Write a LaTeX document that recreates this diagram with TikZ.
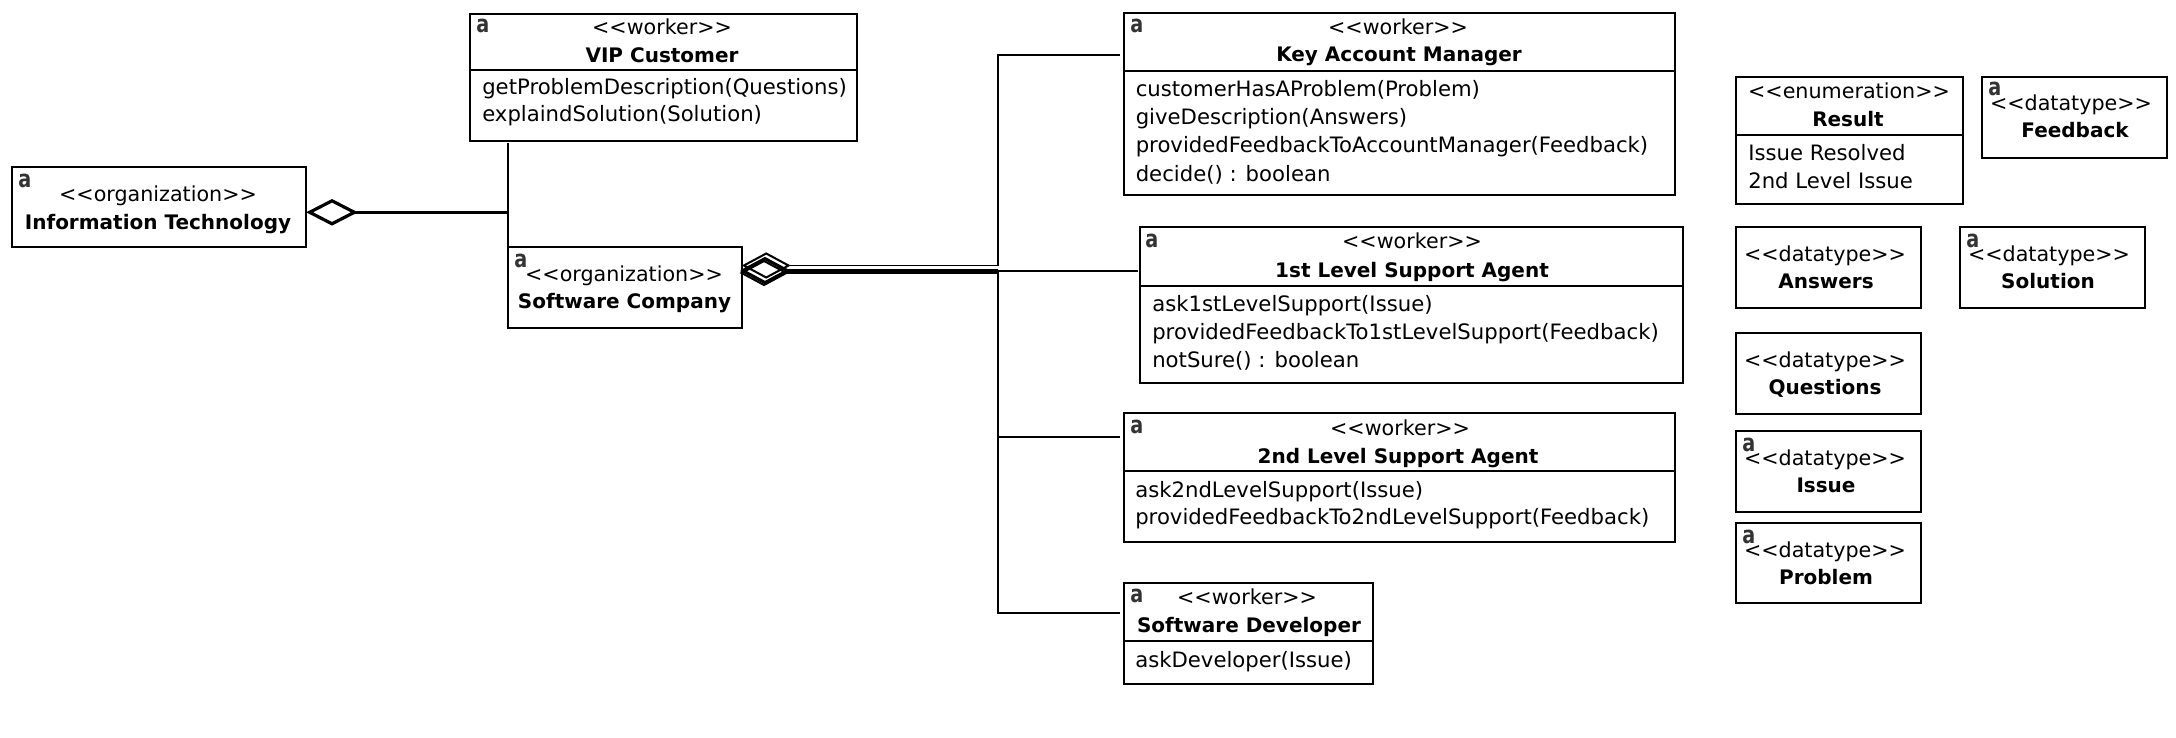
\documentclass[tikz,border=0pt]{standalone}
\usepackage{fontspec}
\setmainfont{DejaVu Sans}
\usetikzlibrary{shapes.geometric}
\newcommand{\acorner}{\scalebox{.8}[1]{a}}
\tikzset{
  umlbox/.style={draw, line width=1.4pt, fill=white, anchor=north west, inner sep=0pt, outer sep=0pt},
  boxsize/.style 2 args={minimum width=#1*0.75pt, minimum height=#2*0.75pt},
  stereo/.style={anchor=base, inner sep=0pt, font=\fontsize{15.5}{18}\selectfont},
  classname/.style={anchor=base, inner sep=0pt, font=\fontsize{15}{18}\selectfont\bfseries},
  member/.style={anchor=base west, inner sep=0pt, font=\fontsize{15.9}{18}\selectfont},
  aicon/.style={anchor=base west, inner sep=0pt, text=black!80, font=\fontsize{18}{20}\selectfont\bfseries},
  aggr/.style={draw, shape=diamond, line width=1.5pt, inner sep=0pt, outer sep=0pt, minimum width=33.5pt, minimum height=18pt},
  link/.style={line width=1.4pt},
  trunklink/.style={line width=2pt},
  heavylink/.style={line width=2.6pt}
}
\begin{document}
\begin{tikzpicture}[x=0.75pt,y=0.75pt,yscale=-1,xscale=1]
\useasboundingbox (0,0) rectangle (2176,738);

%Shape: Rectangle
\node (it) [umlbox, boxsize={294}{80}] at (12,167) {};
\node (vip) [umlbox, boxsize={387}{127}] at (470,14) {};
\node (sc) [umlbox, boxsize={234}{81}] at (508,247) {};
\node (kam) [umlbox, boxsize={551}{182}] at (1124,13) {};
\node (first) [umlbox, boxsize={543}{156}] at (1140,227) {};
\node (second) [umlbox, boxsize={551}{129}] at (1124,413) {};
\node (dev) [umlbox, boxsize={249}{101}] at (1124,583) {};
\node (result) [umlbox, boxsize={227}{127}] at (1736,77) {};
\node (feedback) [umlbox, boxsize={185}{81}] at (1982,77) {};
\node (answers) [umlbox, boxsize={185}{81}] at (1736,227) {};
\node (solution) [umlbox, boxsize={185}{81}] at (1960,227) {};
\node (questions) [umlbox, boxsize={185}{81}] at (1736,333) {};
\node (issue) [umlbox, boxsize={185}{81}] at (1736,431) {};
\node (problem) [umlbox, boxsize={185}{80}] at (1736,523) {};

%Compartment lines
\draw [link] ([yshift=42pt]vip.north west) -- ([yshift=42pt]vip.north east);
\draw [link] ([yshift=43.5pt]kam.north west) -- ([yshift=43.5pt]kam.north east);
\draw [link] ([yshift=44.25pt]first.north west) -- ([yshift=44.25pt]first.north east);
\draw [link] ([yshift=43.5pt]second.north west) -- ([yshift=43.5pt]second.north east);
\draw [link] ([yshift=43.5pt]dev.north west) -- ([yshift=43.5pt]dev.north east);
\draw [link] ([yshift=43.5pt]result.north west) -- ([yshift=43.5pt]result.north east);

%Aggregation diamonds
\node (ditaggr) [aggr, line width=2.4pt, minimum height=17.25pt] at (332,212.3) {};
\node (dkam) [aggr] at (766.2,265.5) {};
\node (dfirst) [aggr] at (765,270) {};
\node (dsecond) [aggr] at (764.5,271) {};
\node (ddev) [aggr] at (764,273) {};

%Connector ends
\coordinate (itjoin) at (508,212.3);
\coordinate (vipfoot) at (508,143);
\coordinate (kambend) at (998,55);
\coordinate (kamend) at (1120,55);
\coordinate (secondend) at (1120,437);
\coordinate (devend) at (1120,613);
\coordinate (firststub) at (1138,271);
\coordinate (trunk) at (998,270);
\coordinate (secondbend) at (998,437);
\coordinate (devbend) at (998,613);

%Straight Lines
\draw [heavylink] (ditaggr.east) -- (itjoin);
\draw [link] (vipfoot) -- (sc.north west);
\draw [link] (dkam.east) -| (kambend) -- (kamend);
\draw [link] (dfirst.east) -- (trunk);
\draw [link] (dsecond.east) -- (firststub);
\draw [link] (ddev.east) -| (devbend) -- (devend);
\draw [trunklink] (trunk) -- (devbend);
\draw [link] (secondbend) -- (secondend);

% Text Node
\node (itst) [stereo] at (158,201) {<{}<organization>{}>};
\node (itnm) [classname] at (158,229) {Information Technology};
\node (itic) [aicon] at (18,187) {\acorner};
% Text Node
\node (vipst) [stereo] at (662,35) {<{}<worker>{}>};
\node (vipnm) [classname] at (662,63) {VIP Customer};
\node (vipic) [aicon] at (476,33) {\acorner};
\node (vipa) [member] at (482,95) {getProblemDescription(Questions)};
\node (vipb) [member] at (482,122) {explaindSolution(Solution)};
% Text Node
\node (scst) [stereo] at (624,281) {<{}<organization>{}>};
\node (scnm) [classname] at (624.5,308) {Software Company};
\node (scic) [aicon] at (514,267) {\acorner};
% Text Node
\node (kamst) [stereo] at (1398,34.5) {<{}<worker>{}>};
\node (kamnm) [classname] at (1399,62) {Key Account Manager};
\node (kamic) [aicon] at (1130,33) {\acorner};
\node (kama) [member] at (1135.5,97) {customerHasAProblem(Problem)};
\node (kamb) [member] at (1135.5,125) {giveDescription(Answers)};
\node (kamc) [member] at (1135.5,153) {providedFeedbackToAccountManager(Feedback)};
\node (kamd) [member] at (1135.5,181) {decide() : boolean};
% Text Node
\node (firstst) [stereo] at (1412,248) {<{}<worker>{}>};
\node (firstnm) [classname] at (1412,277) {1st Level Support Agent};
\node (firstic) [aicon] at (1145,247) {\acorner};
\node (firsta) [member] at (1152,311) {ask1stLevelSupport(Issue)};
\node (firstb) [member] at (1152,339) {providedFeedbackTo1stLevelSupport(Feedback)};
\node (firstc) [member] at (1152,367) {notSure() : boolean};
% Text Node
\node (secondst) [stereo] at (1400,435) {<{}<worker>{}>};
\node (secondnm) [classname] at (1398,463) {2nd Level Support Agent};
\node (secondic) [aicon] at (1130,433) {\acorner};
\node (seconda) [member] at (1135,497) {ask2ndLevelSupport(Issue)};
\node (secondb) [member] at (1135,524) {providedFeedbackTo2ndLevelSupport(Feedback)};
% Text Node
\node (devst) [stereo] at (1247,604) {<{}<worker>{}>};
\node (devnm) [classname] at (1249,632) {Software Developer};
\node (devic) [aicon] at (1130,602) {\acorner};
\node (deva) [member] at (1135,667) {askDeveloper(Issue)};
% Text Node
\node (resultst) [stereo] at (1849,99) {<{}<enumeration>{}>};
\node (resultnm) [classname] at (1848,127) {Result};
\node (resulta) [member] at (1748,161) {Issue Resolved};
\node (resultb) [member] at (1748,189) {2nd Level Issue};
% Text Node
\node (feedbackst) [stereo] at (2071,111) {<{}<datatype>{}>};
\node (feedbacknm) [classname] at (2075,138) {Feedback};
\node (feedbackic) [aicon] at (1988,96) {\acorner};
% Text Node
\node (answersst) [stereo] at (1825,261) {<{}<datatype>{}>};
\node (answersnm) [classname] at (1826,288) {Answers};
% Text Node
\node (solutionst) [stereo] at (2049,261) {<{}<datatype>{}>};
\node (solutionnm) [classname] at (2048,288) {Solution};
\node (solutionic) [aicon] at (1966,247) {\acorner};
% Text Node
\node (questionsst) [stereo] at (1825,367) {<{}<datatype>{}>};
\node (questionsnm) [classname] at (1825,394) {Questions};
% Text Node
\node (issuest) [stereo] at (1825,465) {<{}<datatype>{}>};
\node (issuenm) [classname] at (1826,492) {Issue};
\node (issueic) [aicon] at (1742,451) {\acorner};
% Text Node
\node (problemst) [stereo] at (1825,557) {<{}<datatype>{}>};
\node (problemnm) [classname] at (1826,584) {Problem};
\node (problemic) [aicon] at (1742,543) {\acorner};

\end{tikzpicture}
\end{document}
